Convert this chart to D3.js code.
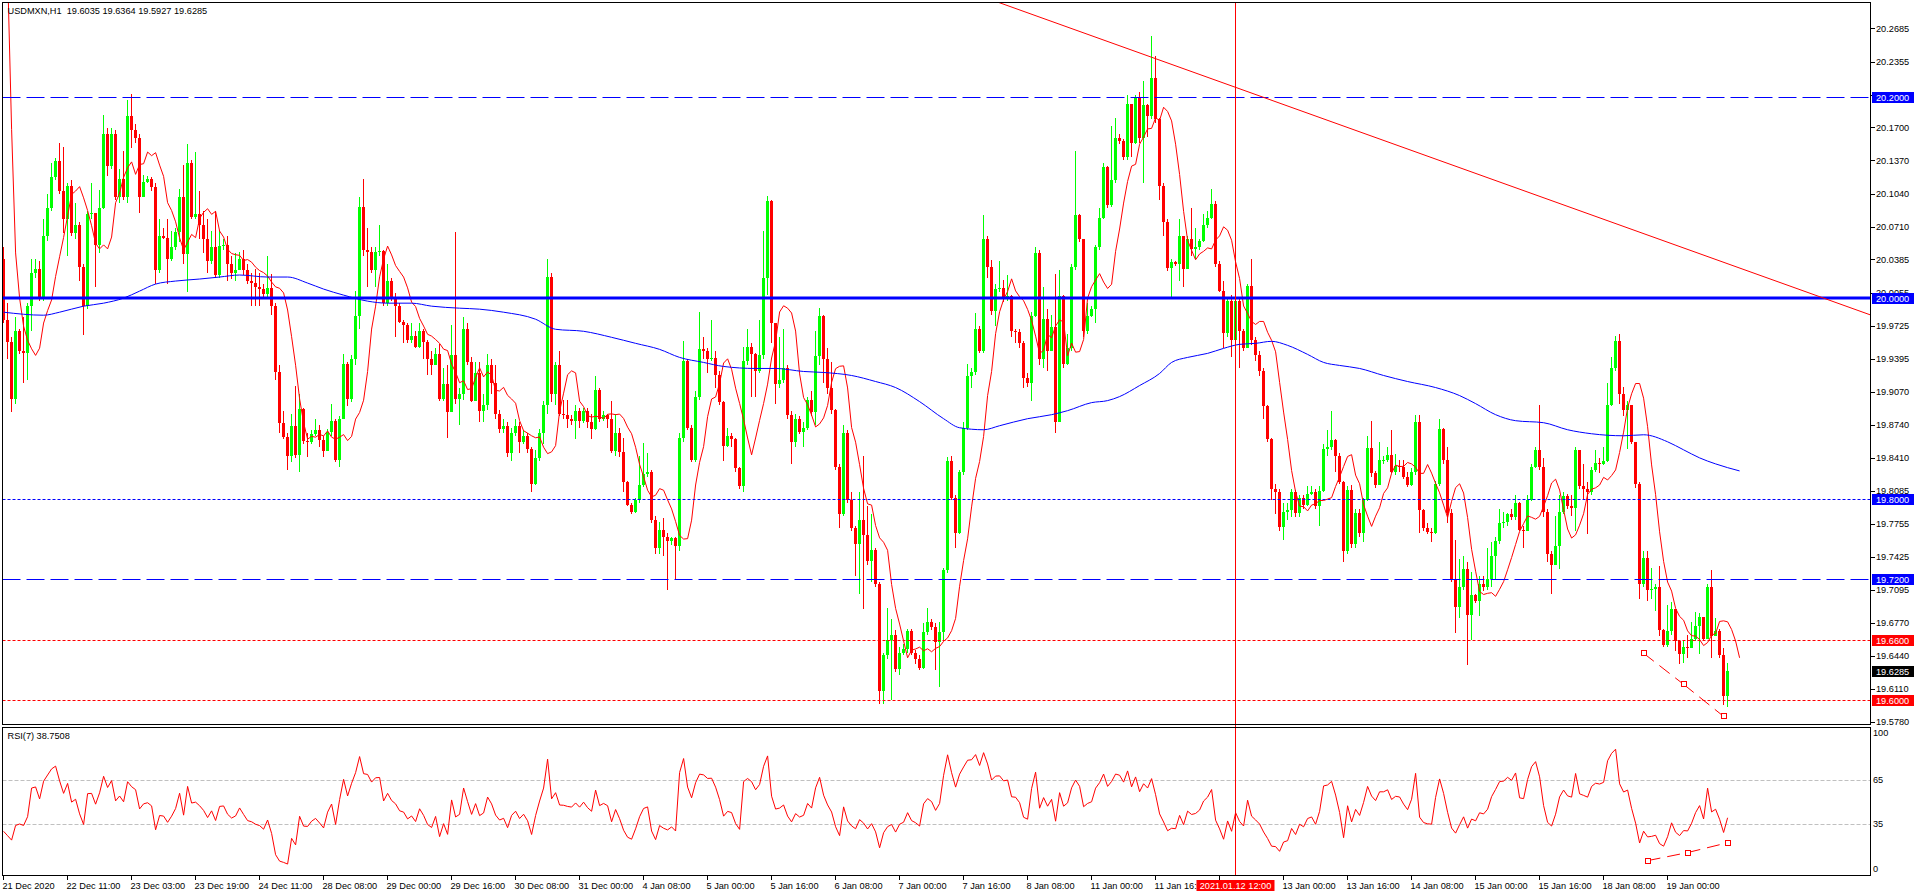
<!DOCTYPE html>
<html><head><meta charset="utf-8">
<script src="https://cdn.jsdelivr.net/npm/d3@7"></script>
<style>
html,body{margin:0;padding:0;background:#fff;overflow:hidden}
svg{display:block;font-family:"Liberation Sans",Arial,sans-serif}
</style></head><body>
<svg id="c" width="1916" height="896"></svg>
<script>
// ---------------- DATA ----------------
const titleText = "USDMXN,H1  19.6035 19.6364 19.5927 19.6285";
const rsiText = "RSI(7) 38.7508";
const firstOpen = 20.039;
const closes = [
19.978,19.956,19.900,19.967,19.947,19.945,19.992,20.025,20.029,20.000,
20.062,20.090,20.121,20.136,20.107,20.079,20.112,20.065,20.073,20.031,
19.992,20.084,20.085,20.053,20.090,20.163,20.132,20.163,20.101,20.119,
20.101,20.181,20.167,20.159,20.101,20.116,20.119,20.111,20.028,20.062,
20.060,20.039,20.051,20.066,20.101,20.044,20.135,20.081,20.084,20.073,
20.059,20.037,20.051,20.023,20.052,20.053,20.034,20.025,20.028,20.039,
20.028,20.017,20.015,20.011,20.009,20.004,20.010,19.992,19.926,19.876,
19.862,19.843,19.873,19.844,19.890,19.858,19.857,19.865,19.869,19.859,
19.848,19.867,19.878,19.839,19.880,19.934,19.900,19.939,19.982,20.091,
20.048,20.046,20.028,20.046,20.047,19.995,20.017,20.000,19.992,19.976,
19.973,19.958,19.962,19.951,19.967,19.956,19.939,19.933,19.944,19.900,
19.915,19.887,19.943,19.900,19.905,19.969,19.936,19.898,19.925,19.888,
19.894,19.933,19.916,19.885,19.870,19.873,19.846,19.866,19.873,19.857,
19.863,19.850,19.815,19.841,19.866,19.894,20.021,19.905,19.933,19.885,
19.884,19.880,19.878,19.888,19.878,19.888,19.877,19.870,19.909,19.880,
19.884,19.880,19.848,19.866,19.847,19.817,19.794,19.787,19.799,19.814,
19.825,19.827,19.779,19.751,19.769,19.762,19.758,19.761,19.753,19.861,
19.937,19.871,19.839,19.902,19.949,19.947,19.939,19.940,19.923,19.897,
19.853,19.863,19.860,19.831,19.813,19.937,19.951,19.944,19.927,19.943,
20.020,20.097,19.975,19.915,19.919,19.930,19.884,19.857,19.880,19.867,
19.871,19.899,19.887,19.942,19.982,19.939,19.911,19.889,19.832,19.785,
19.866,19.799,19.771,19.755,19.779,19.764,19.738,19.749,19.715,19.609,
19.645,19.660,19.665,19.631,19.647,19.651,19.669,19.647,19.641,19.632,
19.668,19.678,19.673,19.658,19.668,19.729,19.838,19.801,19.766,19.827,
19.871,19.922,19.926,19.969,19.947,20.059,20.031,19.987,20.009,20.010,
19.999,20.002,19.967,19.966,19.955,19.921,19.916,19.982,20.045,19.939,
19.979,19.947,19.971,19.877,20.002,19.934,19.950,20.031,20.083,20.059,
19.967,19.982,19.989,20.051,20.080,20.131,20.093,20.118,20.159,20.156,
20.140,20.193,20.154,20.199,20.159,20.192,20.181,20.219,20.178,20.112,
20.076,20.030,20.036,20.034,20.062,20.029,20.059,20.049,20.051,20.057,
20.073,20.080,20.094,20.034,20.007,19.965,19.997,19.958,19.997,19.967,
19.950,20.012,19.958,19.943,19.927,19.893,19.860,19.810,19.807,19.772,
19.787,19.789,19.807,19.786,19.801,19.794,19.805,19.807,19.793,19.808,
19.850,19.852,19.859,19.843,19.817,19.748,19.809,19.755,19.786,19.766,
19.799,19.851,19.826,19.814,19.839,19.839,19.844,19.827,19.833,19.832,
19.822,19.814,19.827,19.877,19.789,19.771,19.767,19.766,19.815,19.870,
19.839,19.786,19.720,19.693,19.712,19.730,19.685,19.705,19.699,19.715,
19.712,19.720,19.743,19.758,19.776,19.777,19.785,19.782,19.796,19.769,
19.768,19.799,19.832,19.849,19.832,19.787,19.745,19.734,19.753,19.787,
19.803,19.793,19.791,19.849,19.813,19.810,19.807,19.829,19.836,19.835,
19.838,19.894,19.930,19.957,19.905,19.889,19.894,19.857,19.815,19.715,
19.741,19.709,19.710,19.712,19.670,19.655,19.669,19.691,19.659,19.646,
19.653,19.652,19.661,19.674,19.683,19.661,19.712,19.664,19.669,19.645,
19.6035,19.6285];
const highs = [
20.051,19.995,19.961,19.981,19.969,19.981,19.995,20.039,20.039,20.037,
20.079,20.104,20.135,20.139,20.154,20.150,20.115,20.118,20.095,20.076,
20.034,20.087,20.115,20.084,20.108,20.182,20.169,20.169,20.167,20.129,
20.146,20.197,20.203,20.173,20.163,20.123,20.122,20.121,20.115,20.079,
20.070,20.079,20.067,20.070,20.109,20.133,20.153,20.137,20.145,20.107,
20.087,20.079,20.067,20.087,20.067,20.059,20.062,20.042,20.045,20.046,
20.048,20.034,20.025,20.029,20.025,20.014,20.042,20.024,19.995,19.933,
19.888,19.866,19.885,19.913,19.905,19.891,19.866,19.869,19.880,19.874,
19.863,19.870,19.895,19.880,19.883,19.944,19.936,19.943,20.007,20.101,
20.119,20.070,20.051,20.051,20.073,20.048,20.034,20.020,20.005,19.995,
19.978,19.975,19.975,19.967,19.975,19.969,19.958,19.947,19.950,19.954,
19.930,19.933,19.973,20.066,19.911,19.981,19.975,19.941,19.936,19.936,
19.905,19.944,19.939,19.933,19.889,19.880,19.877,19.871,19.880,19.877,
19.869,19.866,19.852,19.849,19.870,19.898,20.039,20.025,19.936,19.947,
19.899,19.899,19.884,19.894,19.891,19.891,19.891,19.885,19.922,19.911,
19.888,19.885,19.898,19.885,19.871,19.861,19.818,19.796,19.801,19.843,
19.856,19.846,19.829,19.783,19.777,19.781,19.766,19.762,19.762,19.866,
19.957,19.939,19.874,19.908,19.986,19.961,19.950,19.978,19.947,19.927,
19.898,19.871,19.866,19.861,19.832,19.951,19.969,19.955,19.945,19.978,
20.067,20.102,20.098,19.972,19.961,19.969,19.933,19.888,19.885,19.883,
19.877,19.902,19.908,19.967,19.990,19.983,19.950,19.936,19.890,19.835,
19.874,19.869,19.807,19.773,19.807,19.843,19.793,19.785,19.751,19.717,
19.647,19.692,19.681,19.670,19.653,19.656,19.671,19.671,19.650,19.645,
19.677,19.692,19.681,19.677,19.678,19.731,19.842,19.843,19.804,19.829,
19.877,19.934,19.930,19.985,19.972,20.083,20.062,20.038,20.014,20.037,
20.018,20.023,20.003,19.969,19.969,19.957,19.925,19.986,20.051,20.048,
20.011,19.989,19.983,20.024,20.028,20.003,19.964,20.034,20.146,20.084,
20.059,19.995,19.992,20.053,20.090,20.135,20.132,20.171,20.179,20.163,
20.158,20.202,20.193,20.202,20.205,20.216,20.193,20.261,20.241,20.179,
20.115,20.079,20.039,20.037,20.079,20.062,20.062,20.090,20.070,20.059,
20.084,20.087,20.109,20.097,20.037,20.017,20.000,20.003,20.003,20.000,
19.969,20.014,20.039,19.961,19.947,19.930,19.894,19.861,19.815,19.810,
19.796,19.796,19.810,19.809,19.804,19.804,19.813,19.813,19.810,19.813,
19.855,19.869,19.888,19.860,19.846,19.818,19.813,19.814,19.790,19.790,
19.801,19.863,19.878,19.828,19.857,19.843,19.852,19.869,19.845,19.839,
19.839,19.827,19.831,19.884,19.884,19.790,19.776,19.771,19.818,19.880,
19.871,19.852,19.790,19.759,19.740,19.743,19.737,19.727,19.706,19.723,
19.723,19.751,19.757,19.762,19.790,19.787,19.786,19.790,19.804,19.797,
19.773,19.804,19.835,19.852,19.894,19.841,19.790,19.748,19.783,19.804,
19.807,19.805,19.804,19.852,19.849,19.835,19.817,19.832,19.849,19.841,
19.852,19.916,19.941,19.962,19.964,19.912,19.898,19.874,19.857,19.817,
19.748,19.748,19.731,19.715,19.733,19.671,19.695,19.698,19.691,19.660,
19.660,19.665,19.678,19.688,19.687,19.682,19.715,19.729,19.682,19.671,
19.652,19.6364];
const lows = [
19.975,19.939,19.887,19.895,19.944,19.916,19.919,19.967,20.020,19.997,
19.997,20.057,20.087,20.118,20.104,20.065,20.042,20.062,20.059,20.017,
19.963,19.989,20.079,20.011,20.045,20.089,20.122,20.129,20.098,20.095,
20.098,20.095,20.149,20.154,20.085,20.101,20.115,20.107,20.014,20.025,
20.059,20.014,20.037,20.048,20.056,20.034,20.006,20.079,20.079,20.059,
20.045,20.025,20.034,20.020,20.020,20.048,20.017,20.019,20.017,20.028,
20.023,20.014,19.992,19.992,19.992,19.999,20.000,19.983,19.919,19.866,
19.860,19.829,19.837,19.841,19.827,19.855,19.842,19.855,19.863,19.852,
19.842,19.849,19.863,19.837,19.832,19.880,19.893,19.897,19.933,19.969,
20.042,20.011,20.025,20.011,20.042,19.992,19.992,19.997,19.961,19.975,
19.955,19.955,19.955,19.950,19.950,19.939,19.923,19.923,19.933,19.898,
19.898,19.861,19.887,19.895,19.874,19.899,19.933,19.897,19.898,19.877,
19.877,19.889,19.905,19.880,19.866,19.866,19.842,19.838,19.863,19.846,
19.855,19.846,19.807,19.814,19.838,19.855,19.885,19.897,19.894,19.883,
19.880,19.871,19.874,19.860,19.871,19.876,19.871,19.860,19.869,19.877,
19.878,19.871,19.846,19.843,19.842,19.807,19.793,19.785,19.786,19.796,
19.812,19.822,19.776,19.745,19.745,19.743,19.709,19.754,19.720,19.748,
19.857,19.869,19.837,19.837,19.899,19.939,19.925,19.937,19.911,19.894,
19.838,19.852,19.852,19.827,19.810,19.807,19.933,19.902,19.902,19.925,
19.939,20.003,19.955,19.895,19.911,19.916,19.880,19.835,19.852,19.865,
19.852,19.869,19.883,19.874,19.933,19.916,19.905,19.885,19.829,19.771,
19.783,19.796,19.768,19.723,19.706,19.691,19.734,19.717,19.712,19.596,
19.596,19.641,19.600,19.628,19.625,19.645,19.647,19.645,19.636,19.630,
19.631,19.665,19.670,19.630,19.613,19.659,19.726,19.799,19.751,19.765,
19.824,19.869,19.911,19.923,19.945,19.945,20.020,19.983,19.972,20.006,
19.996,19.997,19.961,19.955,19.950,19.911,19.912,19.898,19.981,19.933,
19.930,19.927,19.947,19.866,19.877,19.930,19.933,19.947,20.028,20.056,
19.961,19.964,19.981,19.975,20.048,20.079,20.090,20.091,20.115,20.153,
20.137,20.137,20.140,20.153,20.154,20.115,20.160,20.178,20.174,20.098,
20.062,20.027,20.000,20.032,20.017,20.011,20.042,20.042,20.039,20.048,
20.056,20.070,20.079,20.031,20.006,19.950,19.961,19.941,19.953,19.930,
19.947,19.953,19.953,19.937,19.922,19.880,19.857,19.799,19.785,19.768,
19.759,19.779,19.782,19.782,19.782,19.790,19.793,19.804,19.790,19.773,
19.807,19.843,19.849,19.827,19.815,19.737,19.745,19.751,19.751,19.762,
19.757,19.798,19.822,19.811,19.814,19.835,19.837,19.826,19.824,19.827,
19.820,19.812,19.813,19.824,19.766,19.768,19.765,19.757,19.765,19.813,
19.835,19.776,19.717,19.667,19.682,19.709,19.635,19.660,19.697,19.684,
19.708,19.709,19.712,19.720,19.755,19.771,19.773,19.779,19.779,19.768,
19.751,19.768,19.798,19.831,19.829,19.782,19.737,19.706,19.734,19.730,
19.785,19.790,19.783,19.768,19.810,19.799,19.765,19.804,19.827,19.826,
19.834,19.837,19.893,19.927,19.895,19.883,19.850,19.855,19.811,19.701,
19.712,19.699,19.701,19.689,19.664,19.653,19.653,19.665,19.649,19.636,
19.637,19.642,19.653,19.659,19.646,19.659,19.661,19.642,19.664,19.642,
19.595,19.5927];
// slow moving average: [bar, price]
const slowMA = [[0,19.986],[10,19.983],[14,19.986],[20,19.992],[25,19.995],[30,20.000],[34,20.007],[38,20.014],[43,20.017],[49,20.019],[54,20.021],[59,20.023],[66,20.021],[71,20.021],[76,20.015],[80,20.009],[85,20.003],[91,19.997],[96,19.995],[102,19.995],[107,19.992],[114,19.990],[119,19.989],[125,19.986],[133,19.979],[138,19.969],[145,19.967],[152,19.961],[158,19.955],[164,19.949],[169,19.941],[175,19.936],[180,19.932],[188,19.930],[193,19.930],[200,19.927],[205,19.926],[212,19.923],[218,19.917],[223,19.911],[229,19.897],[235,19.880],[239,19.871],[245,19.869],[249,19.873],[256,19.880],[262,19.884],[266,19.888],[272,19.896],[276,19.898],[279,19.902],[284,19.913],[289,19.925],[292,19.936],[296,19.941],[301,19.945],[305,19.950],[309,19.954],[313,19.955],[317,19.957],[321,19.953],[326,19.944],[330,19.936],[334,19.933],[339,19.930],[345,19.923],[351,19.917],[358,19.911],[364,19.903],[368,19.895],[373,19.884],[378,19.878],[385,19.876],[391,19.869],[397,19.865],[405,19.863],[410,19.864],[416,19.857],[420,19.849],[424,19.841],[428,19.835],[434,19.828]];
// first values of the fast MA (before enough bars exist)
const fastHead = [[1,20.325],[2,20.168],[3,20.045],[4,20.000],[5,19.972],[6,19.958]];
const fastPeriod = 5, fastShift = 3;
const rsiPeriod = 7;
const rsiHead = [30,27,24,34,35,34,40];
const levelPrices = [20.2, 20.0, 19.8, 19.72, 19.66, 19.6];
const levelLabels = ["20.2000","20.0000","19.8000","19.7200","19.6600","19.6000"];
const bidPrice = 19.6285, bidLabel = "19.6285";
const priceTicks = [20.2685,20.2355,20.2025,20.1700,20.1370,20.1040,20.0710,20.0385,20.0055,19.9725,19.9395,19.9070,19.8740,19.8410,19.8085,19.7755,19.7425,19.7095,19.6770,19.6440,19.6110,19.5780];
const rsiTicks = [100,65,35,0];
const rsiLevels = [65,35];
const timeLabels = ["21 Dec 2020","22 Dec 11:00","23 Dec 03:00","23 Dec 19:00","24 Dec 11:00","28 Dec 08:00","29 Dec 00:00","29 Dec 16:00","30 Dec 08:00","31 Dec 00:00","4 Jan 08:00","5 Jan 00:00","5 Jan 16:00","6 Jan 08:00","7 Jan 00:00","7 Jan 16:00","8 Jan 08:00","11 Jan 00:00","11 Jan 16:00","12 Jan 08:00","13 Jan 00:00","13 Jan 16:00","14 Jan 08:00","15 Jan 00:00","15 Jan 16:00","18 Jan 08:00","19 Jan 00:00"];
const timeLabelStep = 16;
const vlineBar = 308, vlineLabel = "2021.01.12 12:00";
const trendPts = [[249,20.294],[455,20.000]];
const divPrice = [[410,19.6465],[420,19.6156],[430,19.5837]];
const divRsi = [[411,10.0],[421,15.5],[431,22.2]];

// ---------------- LAYOUT ----------------
const svg = d3.select("#c");
const L=2.5, R=1870.5, T=2.5, MB=724.5, RT=727.5, RB=875.5;
const FONT = 9.2;
const x = d3.scaleLinear().domain([0,1]).range([3.6,7.6]);
const y = d3.scaleLinear().domain([19.6,20.2]).range([700,97.2]);
const yr = d3.scaleLinear().domain([0,100]).range([875.3,728.7]);
const GREEN="#00ff00", RED="#ff0000", BLUE="#0000ff";

const defs = svg.append("defs");
defs.append("clipPath").attr("id","cm").append("rect").attr("x",L).attr("y",T).attr("width",R-L).attr("height",MB-T);
defs.append("clipPath").attr("id","cr").append("rect").attr("x",L).attr("y",RT).attr("width",R-L).attr("height",RB-RT);

svg.append("rect").attr("width",1916).attr("height",896).attr("fill","#fff");

// candles
const n = Math.min(closes.length, highs.length, lows.length);
const bars = d3.range(n).map(i=>{
  const o = i===0 ? firstOpen : closes[i-1];
  const c = closes[i];
  return {i, o, c, h: Math.max(highs[i], o, c), l: Math.min(lows[i], o, c)};
});
const gMain = svg.append("g").attr("clip-path","url(#cm)");
const gC = gMain.append("g").attr("shape-rendering","crispEdges");
gC.selectAll("rect.w").data(bars).join("rect").attr("class","w")
  .attr("x",d=>Math.floor(x(d.i))).attr("width",1)
  .attr("y",d=>Math.round(y(d.h))).attr("height",d=>Math.max(1,Math.round(y(d.l))-Math.round(y(d.h))))
  .attr("fill",d=>d.c>=d.o?GREEN:RED);
gC.selectAll("rect.b").data(bars).join("rect").attr("class","b")
  .attr("x",d=>Math.floor(x(d.i))-1).attr("width",3)
  .attr("y",d=>Math.min(Math.round(y(d.o)),Math.round(y(d.c))))
  .attr("height",d=>Math.max(1,Math.abs(Math.round(y(d.o))-Math.round(y(d.c)))))
  .attr("fill",d=>d.c>=d.o?GREEN:RED);

// fast MA (SMA of close, shifted forward)
const fast = fastHead.slice();
for(let k=fastPeriod-1;k<n;k++){
  fast.push([k+fastShift, d3.mean(closes.slice(k-fastPeriod+1,k+1))]);
}
const line = d3.line().x(d=>x(d[0])).y(d=>y(d[1]));
gMain.append("path").attr("d",line(fast)).attr("fill","none").attr("stroke",RED).attr("stroke-width",1);
gMain.append("path").attr("d",line.curve(d3.curveMonotoneX)(slowMA)).attr("fill","none").attr("stroke",BLUE).attr("stroke-width",1);

// horizontal levels
const levelStyle = [
 {c:BLUE,w:1,d:"18,6"},{c:BLUE,w:3,d:null},{c:BLUE,w:1,d:"3,2"},
 {c:BLUE,w:1,d:"18,6"},{c:RED,w:1,d:"3,2"},{c:RED,w:1,d:"3,2"}];
levelPrices.forEach((p,k)=>{
  const yy = Math.round(y(p)) + (levelStyle[k].w===3?0:0.5);
  gMain.append("line").attr("x1",L).attr("x2",R).attr("y1",yy).attr("y2",yy)
    .attr("stroke",levelStyle[k].c).attr("stroke-width",levelStyle[k].w)
    .attr("stroke-dasharray",levelStyle[k].d);
});

// trend line (ray)
const slope = (trendPts[1][1]-trendPts[0][1])/(trendPts[1][0]-trendPts[0][0]);
const tb0 = 230, tb1 = 470;
gMain.append("line")
  .attr("x1",x(tb0)).attr("y1",y(trendPts[0][1]+slope*(tb0-trendPts[0][0])))
  .attr("x2",x(tb1)).attr("y2",y(trendPts[0][1]+slope*(tb1-trendPts[0][0])))
  .attr("stroke",RED).attr("stroke-width",1);

// divergence markers
function divergence(g, pts, yS){
  for(let k=0;k<pts.length-1;k++){
    g.append("line").attr("x1",x(pts[k][0])).attr("y1",yS(pts[k][1]))
     .attr("x2",x(pts[k+1][0])).attr("y2",yS(pts[k+1][1]))
     .attr("stroke",RED).attr("stroke-width",1).attr("stroke-dasharray","13,7");
  }
  g.selectAll(null).data(pts).join("rect")
    .attr("x",d=>Math.round(x(d[0]))-2.5).attr("y",d=>Math.round(yS(d[1]))-2.5)
    .attr("width",5).attr("height",5).attr("fill","#fff").attr("stroke",RED).attr("stroke-width",1);
}
divergence(gMain, divPrice, y);

// RSI
const rsi = new Array(n).fill(null);
rsiHead.forEach((v,i)=>{ if(i<n) rsi[i]=v; });
let ag=0, al=0;
for(let i=1;i<=rsiPeriod;i++){ const d=closes[i]-closes[i-1]; ag+=Math.max(d,0); al+=Math.max(-d,0); }
ag/=rsiPeriod; al/=rsiPeriod;
rsi[rsiPeriod] = al===0?100:100-100/(1+ag/al);
for(let i=rsiPeriod+1;i<n;i++){
  const d=closes[i]-closes[i-1];
  ag=(ag*(rsiPeriod-1)+Math.max(d,0))/rsiPeriod;
  al=(al*(rsiPeriod-1)+Math.max(-d,0))/rsiPeriod;
  rsi[i] = al===0?100:100-100/(1+ag/al);
}
const gR = svg.append("g").attr("clip-path","url(#cr)");
rsiLevels.forEach(v=>{
  const yy=Math.round(yr(v))+0.5;
  gR.append("line").attr("x1",L).attr("x2",R).attr("y1",yy).attr("y2",yy)
    .attr("stroke","#c0c0c0").attr("stroke-dasharray","4,2");
});
gR.append("path").attr("d",d3.line().x((d,i)=>x(i)).y(d=>yr(d))(rsi))
  .attr("fill","none").attr("stroke",RED).attr("stroke-width",1);
divergence(gR, divRsi, yr);

// vertical line
const vx = Math.floor(x(vlineBar))+0.5;
svg.append("line").attr("x1",vx).attr("x2",vx).attr("y1",T).attr("y2",RB).attr("stroke",RED).attr("stroke-width",1);

// frames
const gF = svg.append("g").attr("fill","none").attr("stroke","#000").attr("stroke-width",1).attr("shape-rendering","crispEdges");
gF.append("rect").attr("x",L).attr("y",T).attr("width",R-L).attr("height",MB-T);
gF.append("rect").attr("x",L).attr("y",RT).attr("width",R-L).attr("height",RB-RT);

// texts
const txt = (g,xx,yy,s,fill,anchor)=>g.append("text").attr("x",xx).attr("y",yy).attr("dy","0.35em")
  .attr("font-size",FONT).attr("fill",fill||"#000").attr("text-anchor",anchor||"start").style("white-space","pre").text(s);
txt(svg,7.5,10.8,titleText);
txt(svg,7.5,736,rsiText);

// price axis: a tick label is not drawn where a level/bid box sits right on it
const boxPrices = levelPrices.concat([bidPrice]);
const gA = svg.append("g");
priceTicks.forEach(p=>{
  const yy=Math.round(y(p))+0.5;
  gA.append("line").attr("x1",R).attr("x2",R+4).attr("y1",yy).attr("y2",yy).attr("stroke","#000").attr("shape-rendering","crispEdges");
  const covered = boxPrices.some(b=>Math.abs(y(b)-y(p))<4);
  if(!covered) txt(gA,1876,y(p),p.toFixed(4));
});
rsiTicks.forEach(v=>{
  const yy = v===100? 733 : v===0 ? 868.5 : yr(v);
  txt(gA,1873,yy,String(v));
});
// price boxes
const boxFill = [BLUE,BLUE,BLUE,BLUE,RED,RED];
function priceBox(p,label,fill){
  const yy=y(p);
  gA.append("rect").attr("x",1872).attr("y",Math.round(yy)-5).attr("width",42).attr("height",11).attr("fill",fill);
  txt(gA,1876,Math.round(yy)+0.5,label,"#fff");
}
levelPrices.forEach((p,k)=>priceBox(p,levelLabels[k],boxFill[k]));
priceBox(bidPrice,bidLabel,"#000");

// time axis: labels fully under the vertical-line date box are not drawn
const boxL = vx-39, boxR = vx+39;
timeLabels.forEach((s,k)=>{
  const tx=Math.floor(x(k*timeLabelStep))+0.5;
  gA.append("line").attr("x1",tx).attr("x2",tx).attr("y1",RB).attr("y2",RB+4).attr("stroke","#000").attr("shape-rendering","crispEdges");
  const hidden = tx-1 >= boxL && tx-1 < boxR;
  if(!hidden) txt(gA,tx-1,885.5,s);
});
gA.append("rect").attr("x",boxL).attr("y",880).attr("width",78).attr("height",11).attr("fill",RED);
txt(gA,vx,885.5,vlineLabel,"#fff","middle");
</script>
</body></html>
